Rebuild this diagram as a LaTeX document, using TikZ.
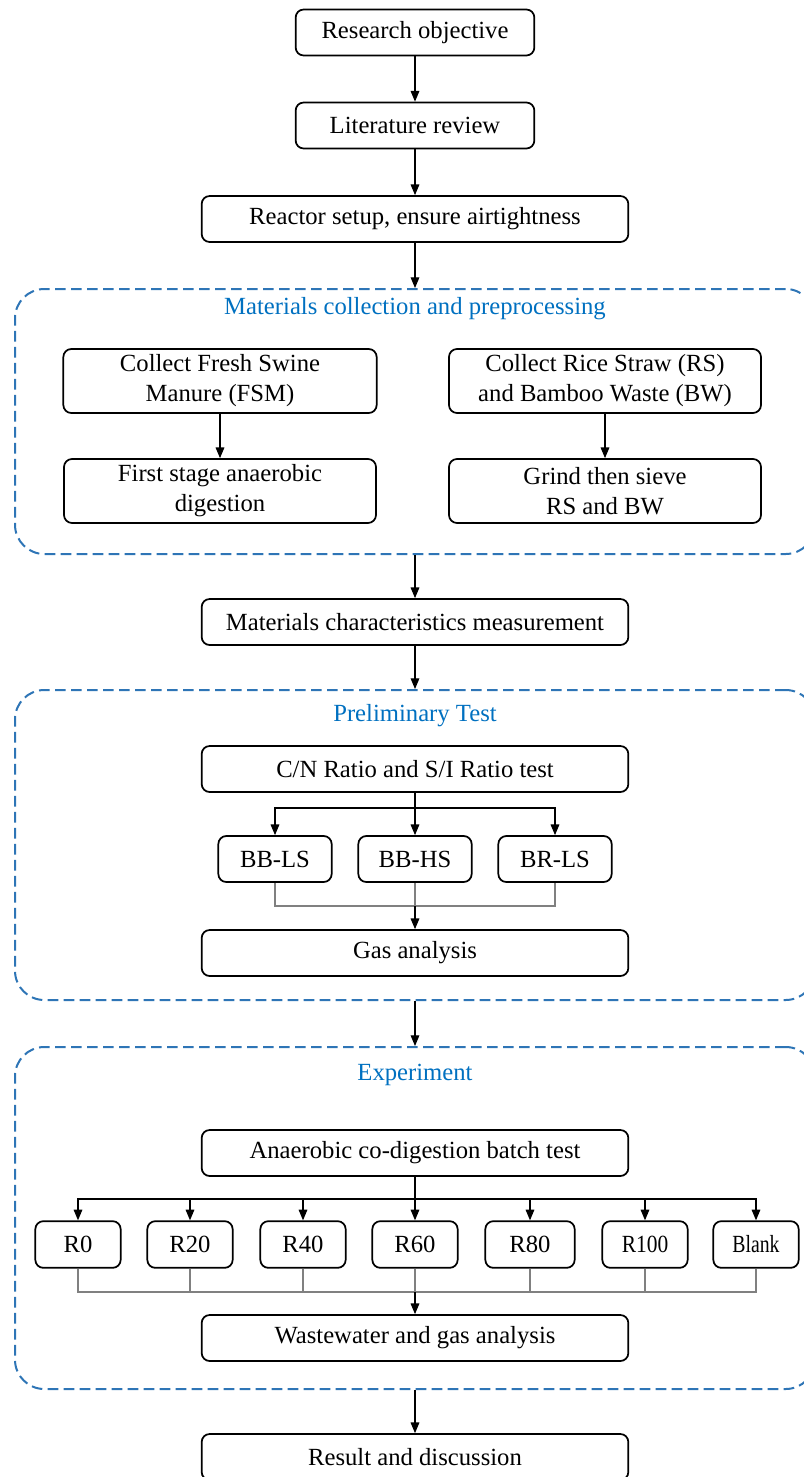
\documentclass[tikz,border=0pt]{standalone}
\usepackage{fontspec}
\setmainfont{Liberation Serif}
\usetikzlibrary{arrows.meta, calc}
\definecolor{dashblue}{RGB}{46,117,182}
\definecolor{titleblue}{RGB}{0,112,192}
\tikzset{
  box/.style={draw, line width=1.3pt, rounded corners=6pt, align=center, inner sep=0pt,
    minimum height=34.5pt, font=\fontsize{18.5}{22.5}\selectfont},
  wide/.style={box, minimum width=320pt},
  rbox/.style={box, minimum width=64pt, minimum height=35pt},
  group/.style={draw=dashblue, line width=1.5pt, dash pattern=on 8pt off 4pt,
    rounded corners=22pt, minimum width=600pt},
  grouptitle/.style={text=titleblue, font=\fontsize{18.5}{22.5}\selectfont},
  arr/.style={-{Triangle[length=8pt,width=6.5pt]}, line width=0.8pt},
  mergeline/.style={draw=gray, line width=0.8pt},
}

\begin{document}
\begin{tikzpicture}[x=0.75pt, y=-0.75pt]
  \useasboundingbox (0,0) rectangle (803,1477);

  \node[box, minimum width=179pt] (objective) at (415,32.5) {Research objective};
  \node[box, minimum width=179pt] (review) at (415,125.5) {Literature review};
  \node[wide] (reactor) at (415,219) {Reactor setup, ensure airtightness};

  \node[group, minimum height=198.75pt] (materials) at (415,421.5) {};
  \node[grouptitle] (materialstitle) at (415,309) {Materials collection and preprocessing};
  \node[box, minimum width=235pt, minimum height=48pt] (fsm) at (220,381) {Collect Fresh Swine\\Manure (FSM)};
  \node[box, minimum width=234pt, minimum height=48pt] (straw) at (605,381) {Collect Rice Straw (RS)\\and Bamboo Waste (BW)};
  \node[box, minimum width=234pt, minimum height=48pt] (firststage) at (220,491) {First stage anaerobic\\digestion};
  \node[box, minimum width=234pt, minimum height=48pt] (grind) at (605,491) {Grind then sieve\\RS and BW};

  \node[wide] (measure) at (415,622) {Materials characteristics measurement};

  \node[group, minimum height=232.5pt] (prelim) at (415,845) {};
  \node[grouptitle] (prelimtitle) at (415,716) {Preliminary Test};
  \node[wide] (ratio) at (415,769) {C/N Ratio and S/I Ratio test};
  \node[box, minimum width=85pt] (bbls) at (275,859) {BB-LS};
  \node[box, minimum width=85pt] (bbhs) at (415,859) {BB-HS};
  \node[box, minimum width=85pt] (brls) at (555,859) {BR-LS};
  \node[wide] (gas) at (415,953) {Gas analysis};
  \coordinate (ratiosplit) at (415,808);
  \coordinate (prelimjoin) at (415,906);

  \node[group, minimum height=256.5pt] (experiment) at (415,1218) {};
  \node[grouptitle] (experimenttitle) at (415,1075) {Experiment};
  \node[wide] (batch) at (415,1153) {Anaerobic co-digestion batch test};
  \node[rbox] (r0) at (78,1244.5) {R0};
  \node[rbox] (r20) at (190,1244.5) {R20};
  \node[rbox] (r40) at (303,1244.5) {R40};
  \node[rbox] (r60) at (415,1244.5) {R60};
  \node[rbox, minimum width=67pt] (r80) at (530,1244.5) {R80};
  \node[rbox] (r100) at (645,1244.5) {\scalebox{0.87}[1]{R100}};
  \node[rbox] (blank) at (756,1244.5) {\scalebox{0.8}[1]{Blank}};
  \node[wide] (wastewater) at (415,1338) {Wastewater and gas analysis};
  \coordinate (batchsplit) at (415,1199);
  \coordinate (rjoin) at (415,1292);

  \node[wide] (result) at (415,1457) {Result and discussion};

  \draw[arr] (objective) -- (review);
  \draw[arr] (review) -- (reactor);
  \draw[arr] (reactor.south) -- (materials.north);
  \draw[arr] (fsm) -- (firststage);
  \draw[arr] (straw) -- (grind);
  \draw[arr] (materials.south) -- (measure.north);
  \draw[arr] (measure.south) -- (prelim.north);

  \draw[line width=0.8pt] (ratio.south) -- (ratiosplit);
  \draw[arr] (ratiosplit) -| (bbls.north);
  \draw[arr] (ratiosplit) -- (bbhs.north);
  \draw[arr] (ratiosplit) -| (brls.north);
  \draw[mergeline] (bbls.south) |- (prelimjoin) -| (brls.south);
  \draw[mergeline] (bbhs.south) -- (prelimjoin);
  \draw[arr] (prelimjoin) -- (gas.north);

  \draw[arr] (prelim.south) -- (experiment.north);

  \draw[line width=0.8pt] (batch.south) -- (batchsplit);
  \foreach \r in {r0,r20,r40,r60,r80,r100,blank}
    \draw[arr] (batchsplit) -| (\r.north);
  \foreach \r in {r0,r20,r40,r60,r80,r100,blank}
    \draw[mergeline] (\r.south) |- (rjoin);
  \draw[arr] (rjoin) -- (wastewater.north);

  \draw[arr] (experiment.south) -- (result.north);
\end{tikzpicture}
\end{document}
